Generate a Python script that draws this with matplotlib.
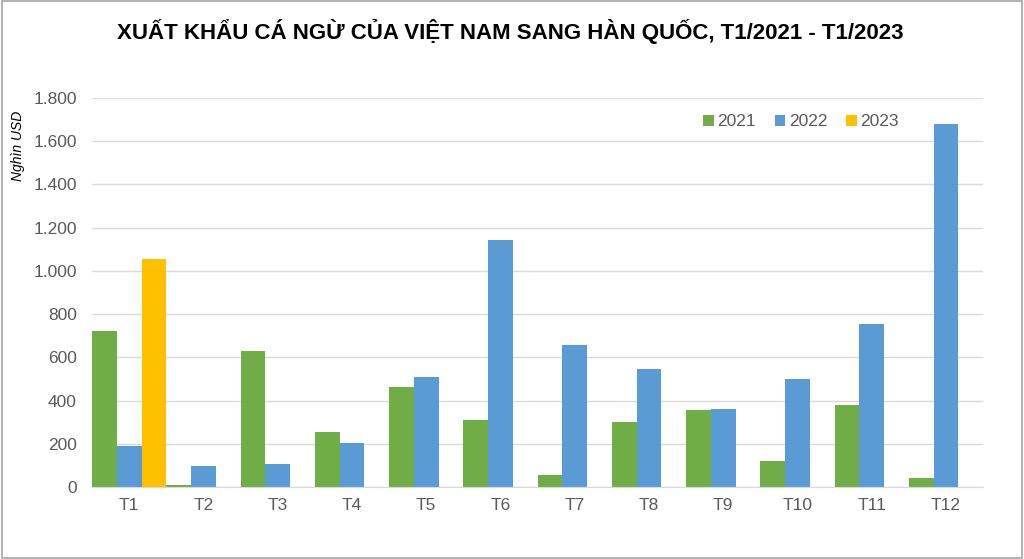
import matplotlib
matplotlib.use('Agg')
import matplotlib.pyplot as plt
import numpy as np
from matplotlib.ticker import FuncFormatter, MultipleLocator
from matplotlib.patches import Rectangle

plt.rcParams['font.family'] = ['Liberation Sans', 'DejaVu Sans']

# ===== データ =====
months = ['T1', 'T2', 'T3', 'T4', 'T5', 'T6', 'T7', 'T8', 'T9', 'T10', 'T11', 'T12']
val_2021 = [722, 8, 629, 254, 463, 310, 56, 301, 356, 120, 379, 43]
val_2022 = [190, 97, 106, 204, 509, 1143, 657, 546, 362, 498, 756, 1682]
val_2023 = [1055, 0, 0, 0, 0, 0, 0, 0, 0, 0, 0, 0]

series_labels = ['2021', '2022', '2023']
COLORS = ['#70AD47', '#5B9BD5', '#FFC000']
TEXT_COLOR = '#595959'
GRID_COLOR = '#D9D9D9'

TITLE = 'XUẤT KHẨU CÁ NGỪ CỦA VIỆT NAM SANG HÀN QUỐC, T1/2021 - T1/2023'
YLABEL = 'Nghìn USD'

W, H = 1024, 559
fig = plt.figure(figsize=(W / 100, H / 100), dpi=100)
ax = fig.add_axes([92 / W, 1 - 487 / H, (983 - 92) / W, (487 - 98) / H])

x = np.arange(len(months))
bw = 1 / 3
for i, (vals, lab, col) in enumerate(zip([val_2021, val_2022, val_2023], series_labels, COLORS)):
    ax.bar(x + (i - 1) * bw, vals, width=bw, color=col, label=lab, zorder=2)

ax.set_xlim(-0.5, len(months) - 0.5)
ax.set_ylim(0, 1800)
ax.yaxis.set_major_locator(MultipleLocator(200))
ax.yaxis.set_major_formatter(FuncFormatter(lambda v, p: f'{int(v):,}'.replace(',', '.')))
ax.set_xticks(x)
ax.set_xticklabels(months)

ax.grid(axis='y', color=GRID_COLOR, linewidth=1, zorder=0)
for s in ['top', 'right', 'left']:
    ax.spines[s].set_visible(False)
ax.spines['bottom'].set_color(GRID_COLOR)
ax.tick_params(axis='both', length=0, labelsize=12.5, colors=TEXT_COLOR)
ax.tick_params(axis='y', pad=11)
ax.tick_params(axis='x', pad=8)

fig.text(510 / W, 1 - 31 / H, TITLE, ha='center', va='center',
         fontsize=16, fontweight='bold', color='black')
fig.text(18 / W, 1 - 146 / H, YLABEL, rotation=90, ha='center', va='center',
         fontsize=10, style='italic', color='black')

leg = ax.legend(loc='center', bbox_to_anchor=(801 / W, 1 - 122 / H),
                bbox_transform=fig.transFigure, ncol=3, frameon=False,
                fontsize=12.5, handlelength=0.6, handleheight=0.6,
                handletextpad=0.2, columnspacing=1.1)
for t in leg.get_texts():
    t.set_color(TEXT_COLOR)

# 外枠
fig.patches.append(Rectangle((0.002, 0.002), 0.996, 0.996, transform=fig.transFigure,
                             fill=False, edgecolor='#A6A6A6', linewidth=1.2))

fig.savefig('out.png', dpi=100)
